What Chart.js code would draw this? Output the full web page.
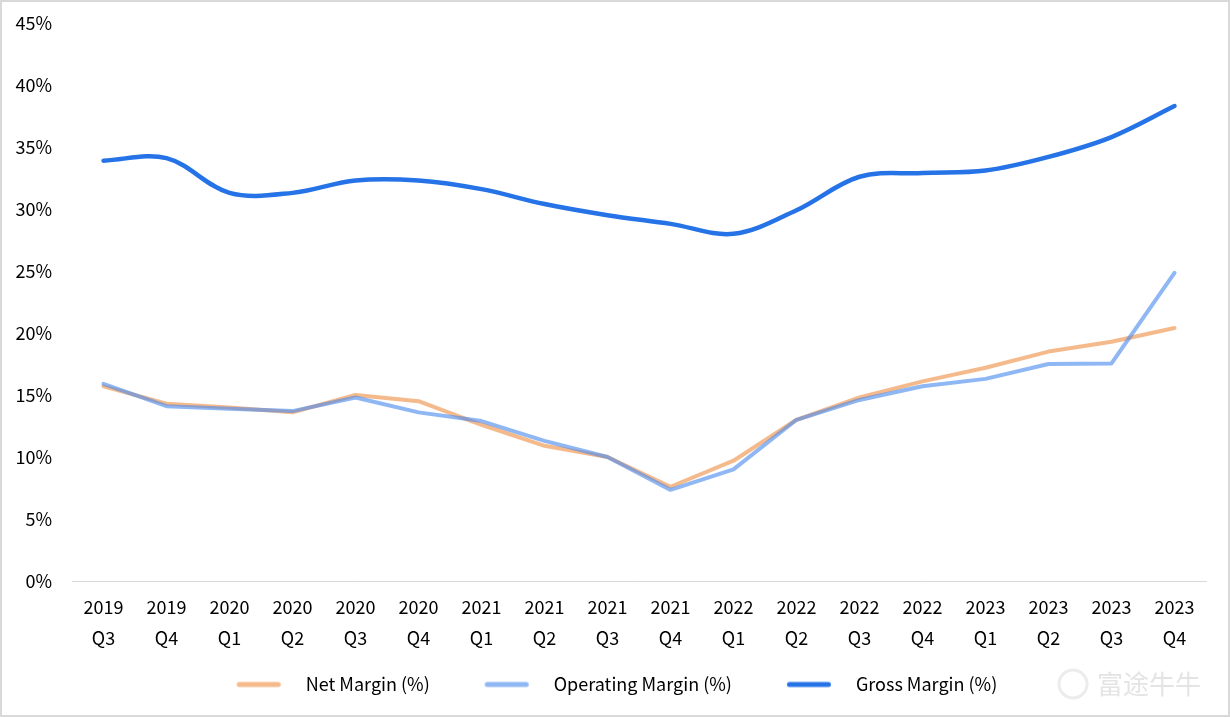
<!DOCTYPE html>
<html>
<head>
<meta charset="utf-8">
<script src="https://cdn.jsdelivr.net/npm/chart.js@4.4.0/dist/chart.umd.min.js"></script>
<style>
  html, body { margin: 0; padding: 0; background: #fff; }
</style>
</head>
<body>
<canvas id="chart-margin" width="1230" height="717"></canvas>
<script>
// ==================== 資料 ====================
const quarterLabels = [
  ['2019', 'Q3'], ['2019', 'Q4'],
  ['2020', 'Q1'], ['2020', 'Q2'], ['2020', 'Q3'], ['2020', 'Q4'],
  ['2021', 'Q1'], ['2021', 'Q2'], ['2021', 'Q3'], ['2021', 'Q4'],
  ['2022', 'Q1'], ['2022', 'Q2'], ['2022', 'Q3'], ['2022', 'Q4'],
  ['2023', 'Q1'], ['2023', 'Q2'], ['2023', 'Q3'], ['2023', 'Q4']
];

const netMargin = [15.7, 14.3, 14.0, 13.6, 15.0, 14.5, 12.6, 10.9, 10.0, 7.6, 9.7, 13.0, 14.8, 16.1, 17.2, 18.5, 19.3, 20.4];
const operatingMargin = [15.9, 14.1, 13.9, 13.7, 14.8, 13.6, 12.9, 11.3, 10.0, 7.35, 9.0, 13.0, 14.6, 15.7, 16.3, 17.5, 17.55, 24.85];
const grossMargin = [33.9, 34.1, 31.3, 31.3, 32.3, 32.3, 31.6, 30.4, 29.5, 28.8, 28.0, 29.9, 32.6, 32.9, 33.1, 34.2, 35.8, 38.3];

const seriesNames = ['Net Margin (%)', 'Operating Margin (%)', 'Gross Margin (%)'];
const yTickMax = 45;
const yTickStep = 5;

const FONT = '"Noto Sans CJK SC", "Noto Sans", sans-serif';
const COLOR_NET = 'rgba(241, 160, 95, 0.72)';
const COLOR_OP = 'rgba(74, 138, 238, 0.62)';
const COLOR_GROSS = '#2573e6';

// 圖例用的短線圖示（左側留白，讓各項之間有間距）
function legendSwatch(color) {
  const c = document.createElement('canvas');
  c.width = 88;
  c.height = 10;
  const g = c.getContext('2d');
  g.strokeStyle = color;
  g.lineWidth = 5;
  g.lineCap = 'round';
  g.beginPath();
  g.moveTo(30.5, 5);
  g.lineTo(69.5, 5);
  g.stroke();
  return c;
}

// 白底、外框與浮水印
const decoPlugin = {
  id: 'deco',
  beforeDraw(chart) {
    const ctx = chart.ctx;
    ctx.save();
    ctx.fillStyle = '#fff';
    ctx.fillRect(0, 0, chart.width, chart.height);
    ctx.restore();
  },
  afterDraw(chart) {
    const ctx = chart.ctx;
    ctx.save();
    ctx.strokeStyle = '#d9d9d9';
    ctx.lineWidth = 2;
    ctx.strokeRect(1, 1, chart.width - 2, chart.height - 2);
    // 浮水印
    ctx.strokeStyle = '#ececec';
    ctx.lineWidth = 3;
    ctx.beginPath();
    ctx.arc(1073, 684, 14, 0, Math.PI * 2);
    ctx.stroke();
    ctx.fillStyle = '#e4e4e4';
    ctx.font = '26px ' + FONT;
    ctx.textBaseline = 'middle';
    ctx.fillText('富途牛牛', 1097, 684);
    ctx.restore();
  }
};

const ctx = document.getElementById('chart-margin').getContext('2d');

new Chart(ctx, {
  type: 'line',
  data: {
    labels: quarterLabels,
    datasets: [
      {
        label: seriesNames[0],
        data: netMargin,
        borderColor: COLOR_NET,
        borderWidth: 4,
        borderCapStyle: 'round',
        borderJoinStyle: 'round',
        pointRadius: 0,
        pointStyle: legendSwatch(COLOR_NET),
        tension: 0,
        order: 1
      },
      {
        label: seriesNames[1],
        data: operatingMargin,
        borderColor: COLOR_OP,
        borderWidth: 4,
        borderCapStyle: 'round',
        borderJoinStyle: 'round',
        pointRadius: 0,
        pointStyle: legendSwatch(COLOR_OP),
        tension: 0,
        order: 0
      },
      {
        label: seriesNames[2],
        data: grossMargin,
        borderColor: COLOR_GROSS,
        borderWidth: 4.5,
        borderCapStyle: 'round',
        pointRadius: 0,
        pointStyle: legendSwatch(COLOR_GROSS),
        tension: 0.35,
        order: 2
      }
    ]
  },
  options: {
    responsive: false,
    animation: false,
    devicePixelRatio: 1,
    layout: {
      padding: { left: 0, right: 24, top: 23, bottom: 13.5 }
    },
    scales: {
      x: {
        offset: true,
        grid: { display: false, drawTicks: false },
        border: { display: true, color: '#d9d9d9', width: 1 },
        ticks: {
          color: '#000',
          font: { family: FONT, size: 18, lineHeight: 31 / 18 },
          padding: 11,
          maxRotation: 0,
          autoSkip: false
        },
        afterFit(scale) {
          scale.height = 67.5;
        }
      },
      y: {
        min: 0,
        max: yTickMax,
        grid: { display: false, drawTicks: true, tickLength: 12 },
        border: { display: false },
        ticks: {
          stepSize: yTickStep,
          color: '#000',
          font: { family: FONT, size: 18 },
          padding: 8,
          callback: v => v + '%'
        },
        afterFit(scale) {
          scale.width = 72;
        }
      }
    },
    plugins: {
      legend: {
        position: 'bottom',
        labels: {
          usePointStyle: true,
          pointStyleWidth: 88,
          padding: 27,
          color: '#000',
          font: { family: FONT, size: 18 },
          sort: (a, b) => a.datasetIndex - b.datasetIndex
        }
      },
      tooltip: { enabled: false }
    }
  },
  plugins: [decoPlugin]
});
</script>
</body>
</html>
